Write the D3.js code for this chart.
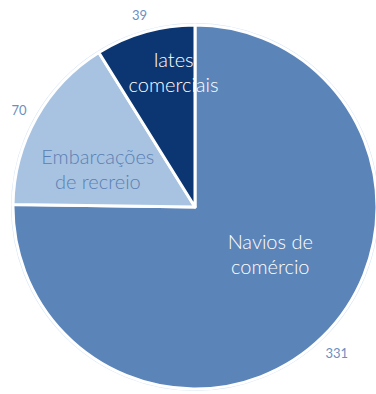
<!DOCTYPE html>
<html>
<head>
<meta charset="utf-8">
<script src="https://cdn.jsdelivr.net/npm/d3@7"></script>
<style>
  html, body { margin: 0; padding: 0; background: #ffffff; }
  svg { display: block; }
  text { font-family: Lato, "Open Sans", sans-serif; }
</style>
</head>
<body>
<svg id="chart" width="376" height="394"></svg>
<script>
// Ship categories, clockwise from 12 o'clock
const categories = ["Navios de comércio", "Embarcações de recreio", "Iates comerciais"];
const labelLines = [["Navios de", "comércio"], ["Embarcações", "de recreio"], ["Iates", "comerciais"]];
const values = [331, 70, 39];

// styling
const fills = ["#5b84b9", "#a8c3e1", "#0b3671"];
const innerTextColors = ["#ffffff", "#5a80b3", "#ffffff"];
const valueColor = "#6c8fc1";
// nudges (px) applied to the centroid-based category label positions
const labelNudge = [[5, -24], [-10, 12], [6, -38]];

const width = 376, height = 394;
const cx = 195, cy = 207, R = 182;

const svg = d3.select("#chart");
const g = svg.append("g").attr("transform", `translate(${cx},${cy})`);

const pie = d3.pie().sort(null).value(d => d)(values);
const arc = d3.arc().innerRadius(0).outerRadius(R);

// soft light rim around the disc
g.append("circle").attr("r", R + 1).attr("fill", "none")
  .attr("stroke", "#d3e3f4").attr("stroke-width", 2);

g.selectAll("path.slice").data(pie).join("path")
  .attr("class", "slice")
  .attr("d", arc)
  .attr("fill", (d, i) => fills[i])
  .attr("stroke", "#ffffff")
  .attr("stroke-width", 3)
  .attr("stroke-linejoin", "round");

// category labels inside slices
const inner = d3.arc().innerRadius(0).outerRadius(R * 1.1);
pie.forEach((d, i) => {
  const [x, y] = inner.centroid(d);
  const lx = x + labelNudge[i][0], ly = y + labelNudge[i][1];
  const lines = labelLines[i];
  const lh = 25;
  const t = g.append("text")
    .attr("text-anchor", "middle")
    .attr("font-size", 20)
    .attr("font-weight", 300)
    .attr("fill", innerTextColors[i]);
  lines.forEach((ln, k) => {
    t.append("tspan").attr("x", lx)
      .attr("y", ly + (k - (lines.length - 1) / 2) * lh)
      .attr("dy", "0.35em")
      .text(ln);
  });
});

// value labels just outside the rim
pie.forEach((d, i) => {
  const a = (d.startAngle + d.endAngle) / 2;
  const r = R + 20;
  const x = Math.sin(a) * r, y = -Math.cos(a) * r + 3;
  g.append("text")
    .attr("x", x).attr("y", y)
    .attr("dy", "0.35em")
    .attr("text-anchor", "middle")
    .attr("font-size", 13)
    .attr("fill", valueColor)
    .text(d.data);
});
</script>
</body>
</html>
